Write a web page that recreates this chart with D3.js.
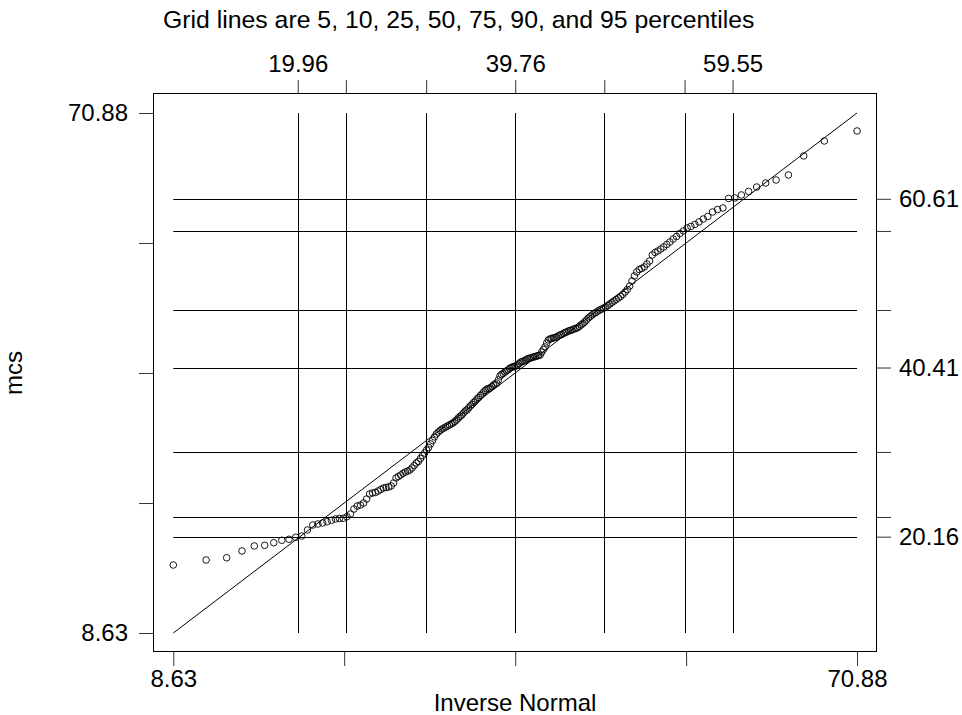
<!DOCTYPE html>
<html><head><meta charset="utf-8">
<script src="https://cdn.jsdelivr.net/npm/d3@7"></script>
<style>
body{margin:0;background:#fff;}
svg{display:block;font-family:"Liberation Sans",Arial,Helvetica,sans-serif;}
</style></head><body>
<svg id="c" width="962" height="715"></svg>
<script>
// sorted mcs values (N = 206)
const mcs = [16.77,17.37,17.64,18.45,19.05,19.13,19.44,19.73,19.85,20.09,
20.24,20.96,21.56,21.68,21.80,21.95,22.12,22.28,22.34,22.36,
22.55,22.88,23.47,23.83,23.95,24.19,24.67,25.27,25.39,25.45,
25.63,25.81,25.99,26.05,26.11,26.23,26.59,27.19,27.37,27.55,
27.75,27.90,28.02,28.14,28.38,28.68,28.98,29.16,29.52,29.88,
30.18,30.54,30.84,31.26,31.68,32.10,32.45,32.69,32.87,33.05,
33.17,33.29,33.41,33.53,33.65,33.77,33.95,34.13,34.37,34.55,
34.73,34.97,35.21,35.33,35.57,35.81,35.99,36.23,36.40,36.64,
36.82,37.06,37.24,37.48,37.66,37.84,37.90,37.96,38.14,38.32,
38.44,38.56,38.92,39.40,39.58,39.70,39.88,40.00,40.12,40.30,
40.42,40.48,40.54,40.60,40.72,40.89,41.07,41.13,41.19,41.31,
41.43,41.49,41.55,41.61,41.67,41.73,41.79,41.85,41.91,42.27,
42.57,42.87,43.35,43.71,43.83,43.89,43.95,44.01,44.07,44.19,
44.31,44.37,44.49,44.61,44.67,44.79,44.85,44.91,45.03,45.09,
45.15,45.33,45.51,45.68,45.86,46.10,46.34,46.52,46.70,46.88,
47.00,47.18,47.30,47.42,47.54,47.66,47.84,48.02,48.20,48.38,
48.56,48.74,48.92,49.16,49.45,49.75,50.17,50.77,51.37,51.85,
52.15,52.27,52.45,52.81,53.16,53.88,54.18,54.36,54.60,54.84,
55.14,55.44,55.80,56.10,56.46,56.76,57.12,57.30,57.54,57.84,
58.19,58.49,59.03,59.33,59.51,60.65,60.71,61.07,61.49,62.02,
62.50,62.86,63.46,65.74,67.53,68.73];

const normMean = 39.76, normSD = 12.03;
const pctLevels = [5, 10, 25, 50, 75, 90, 95];
const normPct = [19.96, 24.34, 31.65, 39.76, 47.87, 55.18, 59.55];
const dataPct = [20.16, 22.52, 30.30, 40.41, 47.30, 56.76, 60.61];
const normPctLabels = ["19.96", "", "", "39.76", "", "", "59.55"];
const dataPctLabels = ["20.16", "", "", "40.41", "", "", "60.61"];
const axisMin = 8.63, axisMax = 70.88;
const axisTicks = [8.63, 24.19, 39.76, 55.32, 70.88];
const axisTickLabels = ["8.63", "", "", "", "70.88"];
const titleText = "Grid lines are 5, 10, 25, 50, 75, 90, and 95 percentiles";

(function(){
// inverse normal (Acklam)
function probit(p){
  const a=[-3.969683028665376e+01,2.209460984245205e+02,-2.759285104469687e+02,1.383577518672690e+02,-3.066479806614716e+01,2.506628277459239e+00];
  const b=[-5.447609879822406e+01,1.615858368580409e+02,-1.556989798598866e+02,6.680131188771972e+01,-1.328068155288572e+01];
  const c=[-7.784894002430293e-03,-3.223964580411365e-01,-2.400758277161838e+00,-2.549732539343734e+00,4.374664141464968e+00,2.938163982698783e+00];
  const d=[7.784695709041462e-03,3.224671290700398e-01,2.445134137142996e+00,3.754408661907416e+00];
  const pl=0.02425;
  let q,r;
  if(p<pl){q=Math.sqrt(-2*Math.log(p));return (((((c[0]*q+c[1])*q+c[2])*q+c[3])*q+c[4])*q+c[5])/((((d[0]*q+d[1])*q+d[2])*q+d[3])*q+1);}
  if(p<=1-pl){q=p-0.5;r=q*q;return (((((a[0]*r+a[1])*r+a[2])*r+a[3])*r+a[4])*r+a[5])*q/(((((b[0]*r+b[1])*r+b[2])*r+b[3])*r+b[4])*r+1);}
  q=Math.sqrt(-2*Math.log(1-p));return -(((((c[0]*q+c[1])*q+c[2])*q+c[3])*q+c[4])*q+c[5])/((((d[0]*q+d[1])*q+d[2])*q+d[3])*q+1);
}
const N = mcs.length;
const pts = mcs.map((v,i)=>({x: normMean + normSD*probit((i+1)/(N+1)), y: v}));

const svg = d3.select("#c");
const L=153, R=877, T=93, B=652;
const x = d3.scaleLinear().domain([axisMin, axisMax]).range([173.3, 857]);
const y = d3.scaleLinear().domain([axisMin, axisMax]).range([633, 113]);
const fs = 24;

// plot region border
svg.append("rect").attr("x",L+0.5).attr("y",T+0.5).attr("width",R-L-1).attr("height",B-T-1)
  .attr("fill","none").attr("stroke","#000").attr("stroke-width",1);

// grid lines
const g = svg.append("g").attr("stroke","#000").attr("stroke-width",1);
normPct.forEach(v=>{
  const px = Math.round(x(v))+0.5;
  g.append("line").attr("x1",px).attr("x2",px).attr("y1",y(axisMax)).attr("y2",y(axisMin));
});
dataPct.forEach(v=>{
  const py = Math.round(y(v))+0.5;
  g.append("line").attr("x1",x(axisMin)).attr("x2",x(axisMax)).attr("y1",py).attr("y2",py);
});

// reference line y = x
svg.append("line").attr("x1",x(axisMin)).attr("y1",y(axisMin)).attr("x2",x(axisMax)).attr("y2",y(axisMax))
  .attr("stroke","#000").attr("stroke-width",1);

// points
svg.append("g").selectAll("circle").data(pts).join("circle")
  .attr("cx",d=>x(d.x)).attr("cy",d=>y(d.y)).attr("r",3.3)
  .attr("fill","none").attr("stroke","#000").attr("stroke-width",0.9);

// axes
function styleAxis(sel){
  sel.select(".domain").remove();
  sel.selectAll(".tick line").attr("stroke","#333");
  sel.selectAll(".tick text").attr("font-size",fs).attr("fill","#000").attr("font-family","Liberation Sans, Arial, sans-serif");
}
const axB = svg.append("g").attr("transform",`translate(0,${B})`)
  .call(d3.axisBottom(x).tickValues(axisTicks).tickFormat((d,i)=>axisTickLabels[i]).tickSize(14).tickPadding(4));
styleAxis(axB);
const axL = svg.append("g").attr("transform",`translate(${L},0)`)
  .call(d3.axisLeft(y).tickValues(axisTicks).tickFormat((d,i)=>axisTickLabels[i]).tickSize(14).tickPadding(11));
styleAxis(axL);
const axT = svg.append("g").attr("transform",`translate(0,${T})`)
  .call(d3.axisTop(x).tickValues(normPct).tickFormat((d,i)=>normPctLabels[i]).tickSize(13).tickPadding(8));
styleAxis(axT);
const axR = svg.append("g").attr("transform",`translate(${R},0)`)
  .call(d3.axisRight(y).tickValues(dataPct).tickFormat((d,i)=>dataPctLabels[i]).tickSize(14).tickPadding(8));
styleAxis(axR);

// titles
svg.append("text").attr("x",163).attr("y",28).attr("font-size",24.8).text(titleText);
svg.append("text").attr("x",515).attr("y",711).attr("text-anchor","middle").attr("font-size",fs).text("Inverse Normal");
svg.append("text").attr("transform","translate(22,373) rotate(-90)").attr("text-anchor","middle").attr("font-size",fs).text("mcs");
})();
</script>
</body></html>
